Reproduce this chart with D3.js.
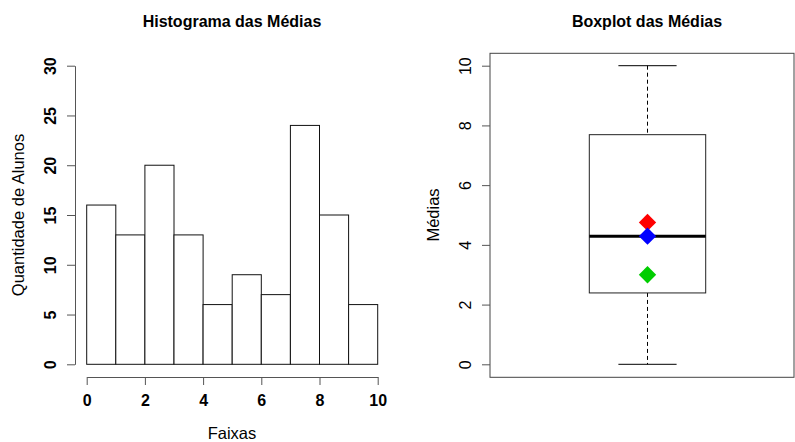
<!DOCTYPE html>
<html><head><meta charset="utf-8">
<script src="https://cdn.jsdelivr.net/npm/d3@7"></script>
<style>
body{margin:0;background:#fff;}
text{font-family:"Liberation Sans",Arial,sans-serif;fill:#000;}
</style></head>
<body><svg id="c" width="795" height="442"></svg>
<script>
// Data
const binEdges = [0,1,2,3,4,5,6,7,8,9,10];
const counts = [16,13,20,13,6,9,7,24,15,6];
const histYTicks = [0,5,10,15,20,25,30];
const histXTicks = [0,2,4,6,8,10];
const boxStatNames = ["min","q1","median","q3","max"];
const boxStatValues = [0, 2.39, 4.29, 7.69, 10];
const markerLabels = ["mean","median","mode"];
const markerValues = [4.75, 4.29, 3.0];
const markerColors = ["#FF0000","#0000FF","#00CD00"];
const boxYTicks = [0,2,4,6,8,10];

const svg = d3.select("#c");

// ---------- Histogram ----------
const hx = d3.scaleLinear().domain([0,10]).range([86.7,377.7]);
const hy = d3.scaleLinear().domain([0,30]).range([364.3,65.7]);
const g1 = svg.append("g");

g1.selectAll("rect.bar").data(counts).enter().append("rect")
  .attr("x",(d,i)=>hx(binEdges[i]))
  .attr("y",d=>hy(d))
  .attr("width",(d,i)=>hx(binEdges[i+1])-hx(binEdges[i]))
  .attr("height",d=>hy(0)-hy(d))
  .attr("fill","#fff").attr("stroke","#111").attr("stroke-width",1);

// y axis
const yAx = g1.append("g").attr("transform","translate(75,0)")
  .call(d3.axisLeft(hy).tickValues(histYTicks).tickSize(8).tickSizeOuter(0).tickPadding(0));
yAx.select(".domain").attr("stroke","#555");
yAx.selectAll(".tick line").attr("stroke","#555");
yAx.selectAll(".tick text").attr("transform","rotate(-90)").attr("x",0).attr("y",-25)
  .attr("text-anchor","middle").attr("dy","0.35em")
  .style("font-size","16px").style("font-weight","bold").style("font-family","Liberation Sans, Arial, sans-serif");

// x axis
const xAx = g1.append("g").attr("transform","translate(0,377)")
  .call(d3.axisBottom(hx).tickValues(histXTicks).tickSize(8).tickSizeOuter(0).tickPadding(0));
xAx.select(".domain").attr("stroke","#555");
xAx.selectAll(".tick line").attr("stroke","#555");
xAx.selectAll(".tick text").attr("y",23).attr("dy","0.35em")
  .style("font-size","16px").style("font-weight","bold").style("font-family","Liberation Sans, Arial, sans-serif");

g1.append("text").attr("x",232).attr("y",27).attr("text-anchor","middle")
  .style("font-size","16px").style("font-weight","bold").text("Histograma das Médias");
g1.append("text").attr("x",232).attr("y",439).attr("text-anchor","middle")
  .style("font-size","16.5px").text("Faixas");
g1.append("text").attr("transform","translate(24,215) rotate(-90)").attr("text-anchor","middle")
  .style("font-size","16.5px").text("Quantidade de Alunos");

// ---------- Boxplot ----------
const by = d3.scaleLinear().domain([0,10]).range([364.3,65.7]);
const bx = d3.scaleLinear().domain([0.5,1.5]).range([589.3,705.7]);
const g2 = svg.append("g");
const st = {}; boxStatNames.forEach((n,i)=>st[n]=boxStatValues[i]);
const cx = bx(1);

g2.append("rect").attr("x",490).attr("y",53.3).attr("width",304).attr("height",324)
  .attr("fill","none").attr("stroke","#444").attr("stroke-width",1);

const byAx = g2.append("g").attr("transform","translate(490,0)")
  .call(d3.axisLeft(by).tickValues(boxYTicks).tickSize(8).tickSizeOuter(0).tickPadding(0));
byAx.select(".domain").remove();
byAx.selectAll(".tick line").attr("stroke","#555");
byAx.selectAll(".tick text").attr("transform","rotate(-90)").attr("x",0).attr("y",-25)
  .attr("text-anchor","middle").attr("dy","0.35em")
  .style("font-size","16px").style("font-family","Liberation Sans, Arial, sans-serif");

// whiskers
g2.append("line").attr("x1",cx).attr("x2",cx).attr("y1",by(st.max)).attr("y2",by(st.q3))
  .attr("stroke","#000").attr("stroke-dasharray","4,3");
g2.append("line").attr("x1",cx).attr("x2",cx).attr("y1",by(st.q1)).attr("y2",by(st.min))
  .attr("stroke","#000").attr("stroke-dasharray","4,3");
[st.min, st.max].forEach(v=>{
  g2.append("line").attr("x1",bx(0.75)).attr("x2",bx(1.25)).attr("y1",by(v)).attr("y2",by(v))
    .attr("stroke","#000");
});
g2.append("rect").attr("x",bx(0.5)).attr("y",by(st.q3)).attr("width",bx(1.5)-bx(0.5))
  .attr("height",by(st.q1)-by(st.q3)).attr("fill","#fff").attr("stroke","#222");
g2.append("line").attr("x1",bx(0.5)).attr("x2",bx(1.5)).attr("y1",by(st.median)).attr("y2",by(st.median))
  .attr("stroke","#000").attr("stroke-width",3);

// markers
const sym = d3.symbol().type(d3.symbolSquare).size(150);
g2.selectAll("path.mk").data(markerValues).enter().append("path")
  .attr("d",sym)
  .attr("transform",d=>`translate(${cx},${by(d)}) rotate(45)`)
  .attr("fill",(d,i)=>markerColors[i]);

g2.append("text").attr("x",647).attr("y",27).attr("text-anchor","middle")
  .style("font-size","16px").style("font-weight","bold").text("Boxplot das Médias");
g2.append("text").attr("transform","translate(439,215) rotate(-90)").attr("text-anchor","middle")
  .style("font-size","16.5px").text("Médias");
</script></body></html>
